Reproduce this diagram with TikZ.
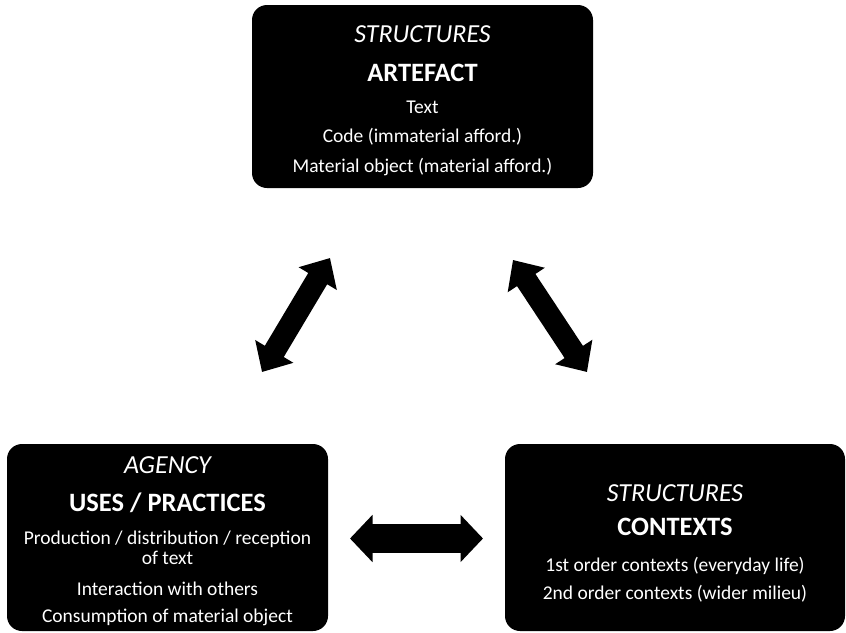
\documentclass[tikz,border=0pt]{standalone}
\usepackage{fontspec}
\setmainfont{Carlito}
\usetikzlibrary{arrows.meta}
\begin{document}
\begin{tikzpicture}[x=1pt,y=-1pt,
  box/.style={draw=none,fill=black,rounded corners=15pt,inner sep=0pt},
  lbl/.style={text=white,inner sep=0pt,anchor=center},
  ttl/.style={lbl,font=\fontsize{26}{29}\selectfont\itshape},
  hd/.style={lbl,font=\fontsize{26.5}{29}\selectfont\bfseries},
  body/.style={lbl,font=\fontsize{19.5}{22}\selectfont},
  diagarrow/.style={line width=22pt,{Triangle[length=24pt,width=43pt]}-{Triangle[length=24pt,width=43pt]}},
  horarrow/.style={line width=29pt,{Triangle[length=22.5pt,width=46pt]}-{Triangle[length=22.5pt,width=46pt]}}
]
\useasboundingbox (0,0) rectangle (846,632);
% boxes
\path[box] (252,5) rectangle (593,188);
\node[inner sep=0pt] (artefact) at (422.5,96.5) {};
\path[box] (7,444) rectangle (328,631);
\node[inner sep=0pt] (uses) at (167.5,537.5) {};
\path[box] (505,444) rectangle (845,631);
\node[inner sep=0pt] (contexts) at (675,537.5) {};
% top box text
\node[ttl]  (t1) at (422.5,34) {STRUCTURES};
\node[hd]   (t2) at (422.5,73) {ARTEFACT};
\node[body] (t3) at (422.5,107) {Text};
\node[body] (t4) at (422.5,137) {Code (immaterial afford.)};
\node[body] (t5) at (422.5,167) {Material object (material afford.)};
% left box text
\node[ttl]  (l1) at (167.5,465) {AGENCY};
\node[hd]   (l2) at (167.5,503) {USES / PRACTICES};
\node[body] (l3) at (167.5,539) {Production / distribution / reception};
\node[body] (l4) at (167.5,558) {of text};
\node[body] (l5) at (167.5,589) {Interaction with others};
\node[body] (l6) at (167.5,617) {Consumption of material object};
% right box text
\node[ttl]  (r1) at (675,493) {STRUCTURES};
\node[hd]   (r2) at (675,527) {CONTEXTS};
\node[body] (r3) at (675,566) {1st order contexts (everyday life)};
\node[body] (r4) at (675,594) {2nd order contexts (wider milieu)};
% arrows
\coordinate (a1) at (330,258);
\coordinate (a2) at (262,372);
\coordinate (b1) at (513,260);
\coordinate (b2) at (587,372);
\coordinate (c1) at (350,538.5);
\coordinate (c2) at (483,538.5);
\draw[diagarrow] (a1) -- (a2);
\draw[diagarrow] (b1) -- (b2);
\draw[horarrow] (c1) -- (c2);
\end{tikzpicture}
\end{document}
